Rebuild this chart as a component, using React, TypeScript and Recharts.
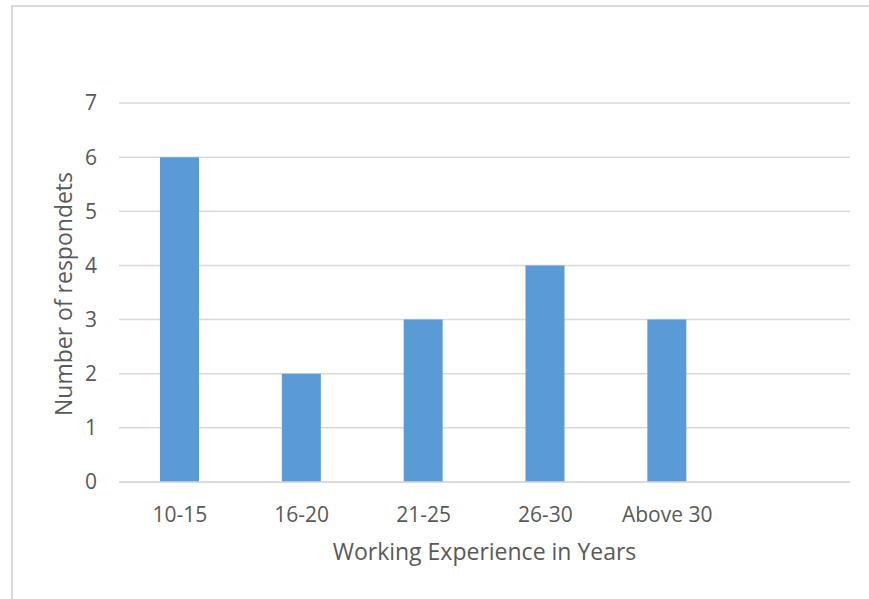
import { BarChart, Bar, XAxis, YAxis, CartesianGrid, Label } from "recharts";

const categories = ["10-15", "16-20", "21-25", "26-30", "Above 30", ""];
const respondents: (number | null)[] = [6, 2, 3, 4, 3, null];
const yTicks = [0, 1, 2, 3, 4, 5, 6, 7];

const data = categories.map((name, i) => ({ name, value: respondents[i] }));

const font = "'Open Sans', sans-serif";
const textColor = "#595959";

export default function App() {
  return (
    <div style={{ position: "fixed", left: 0, top: 0, width: 869, height: 599, background: "#fff" }}>
      <div
        style={{
          position: "absolute",
          left: 11,
          top: 5,
          width: 869,
          height: 620,
          borderLeft: "2px solid #d9d9d9",
          borderTop: "2px solid #d9d9d9",
        }}
      />
      <div style={{ position: "absolute", left: 0, top: 0 }}>
        <BarChart
          width={869}
          height={599}
          data={data}
          margin={{ top: 103, right: 19, left: 0, bottom: 0 }}
          style={{ fontFamily: font }}
        >
          <CartesianGrid vertical={false} stroke="#d9d9d9" strokeWidth={1.5} />
          <XAxis
            dataKey="name"
            height={117}
            tickLine={false}
            tickSize={0}
            tickMargin={25}
            axisLine={{ stroke: "#d9d9d9", strokeWidth: 1.5 }}
            tick={{ fill: textColor, fontSize: 21, fontFamily: font }}
            interval={0}
          >
            <Label
              content={(props: any) => {
                const vb = props.viewBox || {};
                return (
                  <text
                    x={vb.x + vb.width / 2}
                    y={vb.y + 78}
                    textAnchor="middle"
                    fill={textColor}
                    fontSize={23}
                    fontFamily={font}
                  >
                    Working Experience in Years
                  </text>
                );
              }}
            />
          </XAxis>
          <YAxis
            width={119}
            domain={[0, 7]}
            ticks={yTicks}
            interval={0}
            tickLine={false}
            tickSize={0}
            tickMargin={22}
            axisLine={false}
            tick={{ fill: textColor, fontSize: 21, fontFamily: font }}
          >
            <Label
              content={(props: any) => {
                const vb = props.viewBox || {};
                const cx = vb.x + 63;
                const cy = vb.y + vb.height / 2 + 1.5;
                return (
                  <text
                    x={cx}
                    y={cy}
                    transform={`rotate(-90, ${cx}, ${cy})`}
                    textAnchor="middle"
                    dominantBaseline="central"
                    fill={textColor}
                    fontSize={23}
                    fontFamily={font}
                  >
                    Number of respondets
                  </text>
                );
              }}
            />
          </YAxis>
          <Bar dataKey="value" fill="#5b9bd5" barSize={39} isAnimationActive={false} />
        </BarChart>
      </div>
    </div>
  );
}
